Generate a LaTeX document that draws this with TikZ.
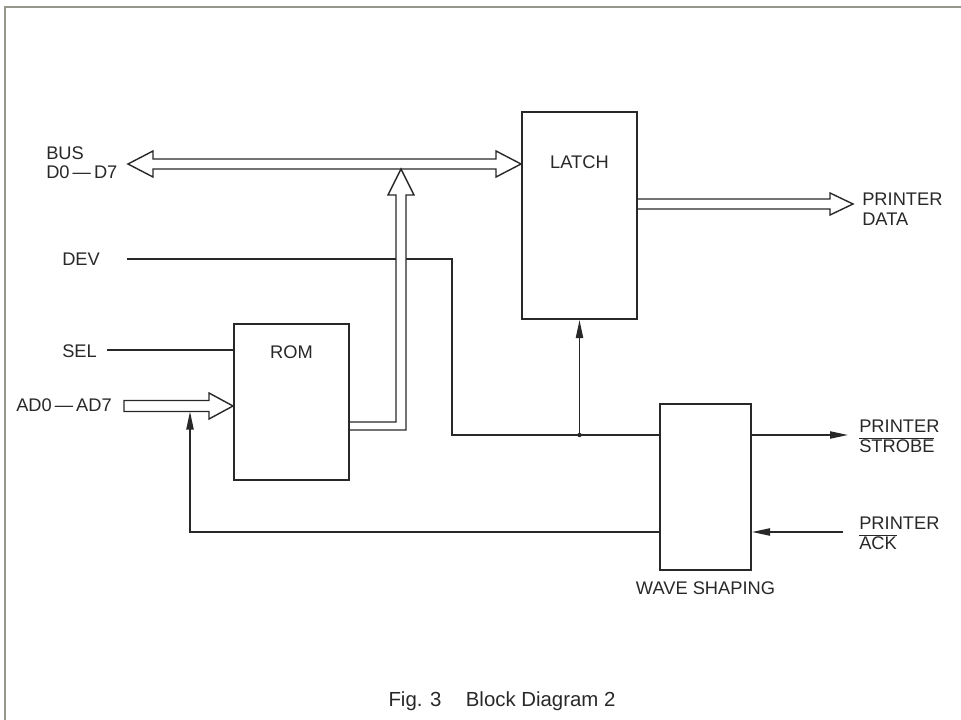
\documentclass[tikz,border=0pt]{standalone}
\usepackage{fontspec}
\setmainfont{Liberation Sans}
\usepackage{tikz}
\usetikzlibrary{positioning,arrows.meta,calc}
\definecolor{ink}{RGB}{40,40,40}
\definecolor{edge}{RGB}{150,150,140}
\newcommand{\lowact}[1]{$\overline{\mbox{#1}}$}

\begin{document}
\begin{tikzpicture}[x=0.025cm, y=-0.025cm,
  blk/.style 2 args={draw=ink, line width=1.4pt, minimum width=#1, minimum height=#2, inner sep=0pt},
  txt/.style={font=\fontsize{13}{14}\selectfont, text=ink, inner sep=0pt, align=left},
  wire/.style={draw=ink, line width=1.1pt},
  fat/.style={draw=ink, fill=white, line width=1pt, line join=miter},
  >={Triangle[length=4.5mm, width=1.8mm]}]
  \useasboundingbox (0,0) rectangle (961,720);
  \draw[edge, line width=1pt] (5,720) -- (5,7) -- (961,7);
  % blocks
  \node[blk={2.875cm}{5.175cm}] (latch) at (579.5,215.5) {};
  \node[blk={2.875cm}{3.9cm}]   (rom)   at (291.5,402)   {};
  \node[blk={2.275cm}{4.15cm}]  (wave)  at (705.5,487)   {};
  \node[txt, below=1.1cm of latch.north]  (latchtxt) {LATCH};
  \node[txt, below=0.55cm of rom.north]   (romtxt)   {ROM};
  \node[txt, below=0.25cm of wave.south]  (wavetxt)  {WAVE SHAPING};
  % signal names
  \node[txt, anchor=north west] (buslbl) at (46,146)  {BUS\\D0\,—\,D7};
  \node[txt, anchor=west]       (devlbl) at (62,259)  {DEV};
  \node[txt, anchor=west]       (sellbl) at (62,351)  {SEL};
  \node[txt, anchor=west]       (adlbl)  at (16,405)  {AD0\,—\,AD7};
  \node[txt, anchor=north west] (pdlbl)  at (862,193) {PRINTER\\DATA};
  \node[txt, anchor=north west] (stblbl) at (859,420) {PRINTER\\\lowact{STROBE}};
  \node[txt, anchor=north west] (acklbl) at (859,517) {PRINTER\\\lowact{ACK}};
  \node[text=ink, font=\fontsize{14.5}{16}\selectfont] (caption) at (502,701) {Fig. 3\hspace{1.2em}Block Diagram 2};
  % wire ends
  \coordinate (devin) at (127,259);
  \coordinate (selin) at (107,350);
  \coordinate (jbend) at (452,435);
  \coordinate (j)     at (latch.south |- jbend);
  \coordinate (stbout) at (848,435);
  \coordinate (ackin)  at (843,532);
  \coordinate (fb)     at (190,411.5);
  \coordinate (busL)   at (128,164);
  \coordinate (busR)   at (latch.west |- busL);
  \coordinate (up)     at (401,169);
  \coordinate (adL)    at (124,406);
  \coordinate (adR)    at ($(rom.west)+(0,4)$);
  \coordinate (pdR)    at (853,204);
  \coordinate (pdL)    at (latch.east |- pdR);
  % thin wires
  \draw[wire] (selin) -- (selin -| rom.west);
  \draw[wire] (devin) -| (jbend) -- (wave.west |- jbend);
  \fill[ink] (j) circle (2.2);
  \draw[wire, ->] (j) -- (latch.south);
  \draw[wire, ->] (wave.east |- j) -- (stbout);
  \draw[wire, ->] (ackin) -- (ackin -| wave.east);
  % buses
  \draw[fat] (busL) -- ++(25,-13) -- ++(0,8) -- ($(busR)+(-25,-5)$) -- ++(0,-8) -- (busR)
    -- ++(-25,13) -- ++(0,-8) -- ($(busL)+(25,5)$) -- ++(0,8) -- cycle;
  \draw[fat] ($(rom.east)+(0,20)$) -| ($(up)+(-5,26)$) -- ++(-8,0) -- (up) -- ++(13,26)
    -- ++(-8,0) |- ($(rom.east)+(0,28)$);
  \draw[fat] ($(adL)+(0,-5.5)$) -- ($(adR)+(-24,-5.5)$) -- ++(0,-7.5) -- (adR) -- ++(-24,13)
    -- ++(0,-7.5) -- ($(adL)+(0,5.5)$) -- cycle;
  \draw[fat] ($(pdL)+(0,-5)$) -- ($(pdR)+(-23,-5)$) -- ++(0,-6) -- (pdR) -- ++(-23,11)
    -- ++(0,-6) -- ($(pdL)+(0,5)$);
  % feedback from wave shaping
  \draw[wire, ->] (ackin -| wave.west) -| (fb);
\end{tikzpicture}
\end{document}
